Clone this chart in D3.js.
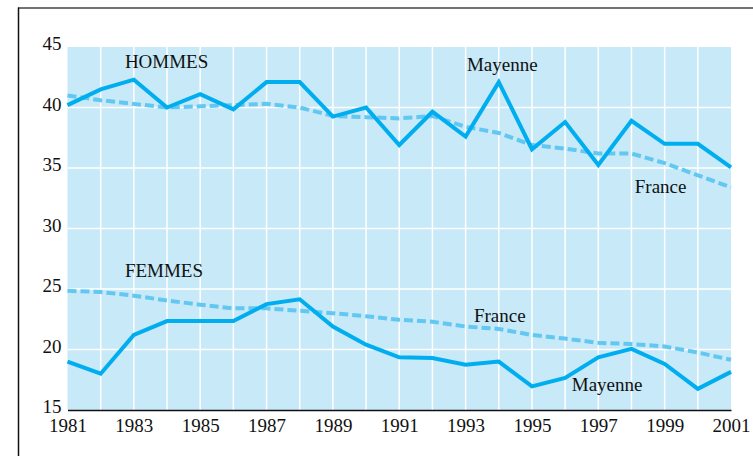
<!DOCTYPE html>
<html>
<head>
<meta charset="utf-8">
<script src="https://cdn.jsdelivr.net/npm/d3@7"></script>
<style>
  body { margin: 0; background: #fff; }
  svg text { font-family: "Liberation Serif", "DejaVu Serif", serif; fill: #111; }
</style>
</head>
<body>
<div class="chart"></div>
<script>
// data
const years = d3.range(1981, 2002);
const yTicks = [15, 20, 25, 30, 35, 40, 45];
const xTicks = [1981, 1983, 1985, 1987, 1989, 1991, 1993, 1995, 1997, 1999, 2001];

const hommesMayenne = [40.2, 41.5, 42.3, 40.0, 41.1, 39.85, 42.1, 42.1, 39.25, 40.0,
                       36.9, 39.65, 37.6, 42.1, 36.55, 38.8, 35.25, 38.9, 37.0, 37.0, 35.05];
const hommesFrance  = [41.0, 40.6, 40.3, 40.0, 40.1, 40.2, 40.3, 40.0, 39.3, 39.2,
                       39.1, 39.3, 38.4, 37.9, 36.9, 36.6, 36.2, 36.2, 35.4, 34.4, 33.4];
const femmesMayenne = [19.0, 18.0, 21.2, 22.35, 22.35, 22.35, 23.75, 24.15, 21.9, 20.4,
                       19.35, 19.3, 18.75, 19.0, 16.95, 17.65, 19.35, 20.05, 18.8, 16.75, 18.15];
const femmesFrance  = [24.85, 24.75, 24.45, 24.05, 23.7, 23.4, 23.4, 23.2, 23.0, 22.75,
                       22.45, 22.3, 21.9, 21.7, 21.2, 20.9, 20.55, 20.45, 20.25, 19.75, 19.15];

const labels = [
  {text: 'HOMMES',  year: 1982.73, val: 43.27},
  {text: 'Mayenne', year: 1993.04, val: 43.0},
  {text: 'France',  year: 1998.1,  val: 32.94},
  {text: 'FEMMES',  year: 1982.73, val: 26.0},
  {text: 'France',  year: 1993.25, val: 22.29},
  {text: 'Mayenne', year: 1996.2,  val: 16.6}
];

const svg_width = 753, svg_height = 456;
const margin = {top: 47, right: 22, bottom: 46, left: 67.5};
const chart_width = 731 - margin.left;
const chart_height = 410 - margin.top;

const svg = d3.select('.chart').append('svg')
    .attr('width', svg_width).attr('height', svg_height);

// frame
svg.append('line').attr('x1', 18).attr('x2', 753).attr('y1', 8).attr('y2', 8)
    .style('stroke', '#444').style('stroke-width', 1.5);
svg.append('line').attr('x1', 18.5).attr('x2', 18.5).attr('y1', 7.5).attr('y2', 456)
    .style('stroke', '#111').style('stroke-width', 1.5);

const g = svg.append('g').attr('transform', `translate(${margin.left},${margin.top})`);

const xScale = d3.scaleLinear([1981, 2001], [0, chart_width]);
const yScale = d3.scaleLinear([15, 45], [chart_height, 0]);

g.append('rect').attr('width', chart_width).attr('height', chart_height)
    .style('fill', '#c7e9f8');

// grid
g.selectAll('.vgrid').data(years.slice(1, -1)).enter().append('line')
    .attr('class', 'vgrid')
    .attr('x1', d => xScale(d)).attr('x2', d => xScale(d))
    .attr('y1', 0).attr('y2', chart_height)
    .style('stroke', '#fff').style('stroke-width', 1.5);
g.selectAll('.hgrid').data(yTicks.slice(1, -1)).enter().append('line')
    .attr('class', 'hgrid')
    .attr('x1', 0).attr('x2', chart_width)
    .attr('y1', d => yScale(d)).attr('y2', d => yScale(d))
    .style('stroke', '#fff').style('stroke-width', 1.5);

// axes
const xAxis = d3.axisBottom(xScale).tickValues(xTicks).tickFormat(d3.format('d'))
    .tickSize(0).tickPadding(8.5);
const xAxisDraw = g.append('g').attr('transform', `translate(0,${chart_height})`).call(xAxis);
xAxisDraw.select('.domain').style('stroke', '#111').style('stroke-width', 1.5);
xAxisDraw.selectAll('text').style('font-size', '19px').style('font-family', null);

const yAxis = d3.axisLeft(yScale).tickValues(yTicks).tickSize(0).tickPadding(6);
const yAxisDraw = g.append('g').call(yAxis);
yAxisDraw.select('.domain').remove();
yAxisDraw.selectAll('text').style('font-size', '19px').style('font-family', null)
    .attr('dy', '0.15em');

// lines
const line = d3.line().x((d, i) => xScale(years[i])).y(d => yScale(d));

[hommesFrance, femmesFrance].forEach(s => {
  g.append('path').datum(s).attr('d', line)
    .style('fill', 'none').style('stroke', '#62c8f2').style('stroke-width', 4)
    .style('stroke-dasharray', '9,4');
});
[hommesMayenne, femmesMayenne].forEach(s => {
  g.append('path').datum(s).attr('d', line)
    .style('fill', 'none').style('stroke', '#00aeef').style('stroke-width', 4)
    .style('stroke-linejoin', 'miter');
});

// labels
g.selectAll('.lbl').data(labels).enter().append('text')
    .attr('class', 'lbl')
    .attr('x', d => xScale(d.year)).attr('y', d => yScale(d.val))
    .style('font-size', '19px')
    .text(d => d.text);
</script>
</body>
</html>
